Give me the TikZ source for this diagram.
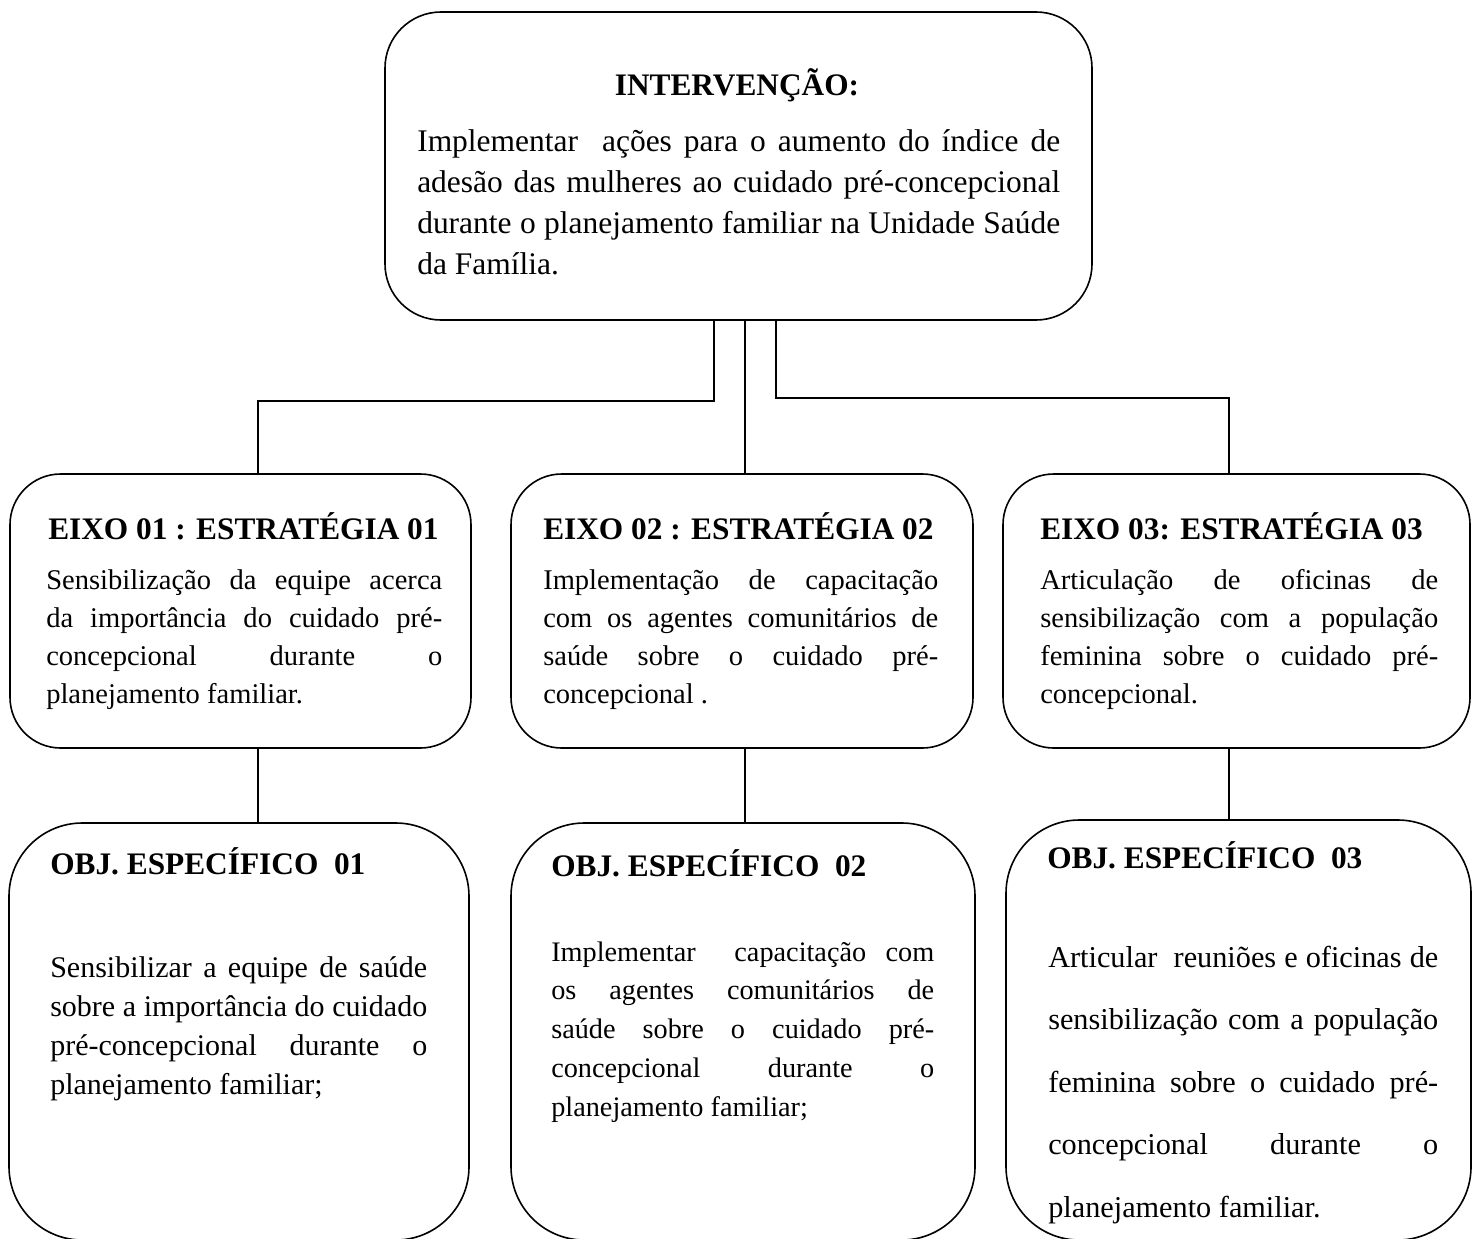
\documentclass[tikz,border=0pt]{standalone}
\usepackage{fontspec}
\setmainfont{Liberation Serif}
\definecolor{itvInk}{HTML}{000000}
% one justified line, and a block of lines whose base is the first line
\newcommand\jline[1]{\hbox to\hsize{\spaceskip=0.25em plus 1fil\xspaceskip=\spaceskip #1}}
\newcommand\bodylines[2]{\vtop{\hsize=#1\relax #2}}
\tikzset{
  itv box/.style={draw=itvInk, line width=1.2pt, rounded corners=#1, inner sep=0pt},
  itv box/.default=40pt,
  itv link/.style={draw=itvInk, line width=0.8pt},
  itv head/.style={font=\bfseries\fontsize{23.5}{28}\selectfont, text=itvInk, inner sep=0pt, anchor=base west},
  itv body/.style 2 args={font=\fontsize{#1}{#2}\selectfont, text=itvInk, inner sep=0pt, anchor=base west},
}

\begin{document}
\begin{tikzpicture}[x=0.75pt,y=-0.75pt]
  \useasboundingbox (0,0) rectangle (1477,1238);
  \clip (0,0) rectangle (1477,1238);

  % intervention
  \node[itv box=42pt, minimum width=530.25pt, minimum height=231pt] (top) at (738.5,166) {};
  \node[itv head, anchor=base] (topHead) at (737,95) {INTERVENÇÃO:};
  \node[itv body={23.6}{30.8}] (topText) at (417,151) {\bodylines{482.25pt}{%
    \jline{Implementar\ \ ações para o aumento do índice de}
    \jline{adesão das mulheres ao cuidado pré-concepcional}
    \jline{durante o planejamento familiar na Unidade Saúde}
    \hbox{da Família.}}};

  % axes
  \node[itv box=38pt, minimum width=345.75pt, minimum height=205.5pt] (e1) at (240.5,611) {};
  \node[itv box=38pt, minimum width=346.5pt, minimum height=205.5pt] (e2) at (742,611) {};
  \node[itv box=38pt, minimum width=350.25pt, minimum height=205.5pt] (e3) at (1236.5,611) {};

  \node[itv head] (e1Head) at (48,539) {EIXO 01 : ESTRATÉGIA 01};
  \node[itv head] (e2Head) at (543,539) {EIXO 02 : ESTRATÉGIA 02};
  \node[itv head] (e3Head) at (1040,539) {EIXO 03: ESTRATÉGIA 03};

  \node[itv body={21.4}{28.5}] (e1Text) at (46,589) {\bodylines{297pt}{%
    \jline{Sensibilização da equipe acerca}
    \jline{da importância do cuidado pré-}
    \jline{concepcional durante o}
    \hbox{planejamento familiar.}}};
  \node[itv body={21.4}{28.5}] (e2Text) at (543,589) {\bodylines{296.25pt}{%
    \jline{Implementação de capacitação}
    \jline{com os agentes comunitários de}
    \jline{saúde sobre o cuidado pré-}
    \hbox{concepcional .}}};
  \node[itv body={21.4}{28.5}] (e3Text) at (1040,589) {\bodylines{298.5pt}{%
    \jline{Articulação de oficinas de}
    \jline{sensibilização com a população}
    \jline{feminina sobre o cuidado pré-}
    \hbox{concepcional.}}};

  % specific objectives
  \node[itv box=55pt, minimum width=345pt, minimum height=312.75pt] (o1) at (239,1031.5) {};
  \node[itv box=55pt, minimum width=348pt, minimum height=312.75pt] (o2) at (743,1031.5) {};
  \node[itv box=55pt, minimum width=348.75pt, minimum height=315pt] (o3) at (1238.5,1030) {};

  \node[itv head] (o1Head) at (50,874) {OBJ. ESPECÍFICO\ \ 01};
  \node[itv head] (o2Head) at (551,876) {OBJ. ESPECÍFICO\ \ 02};
  \node[itv head] (o3Head) at (1047,868) {OBJ. ESPECÍFICO\ \ 03};

  \node[itv body={22.5}{29.25}] (o1Text) at (50,977) {\bodylines{282.75pt}{%
    \jline{Sensibilizar a equipe de saúde}
    \jline{sobre a importância do cuidado}
    \jline{pré-concepcional durante o}
    \hbox{planejamento familiar;}}};
  \node[itv body={21.2}{29.1}] (o2Text) at (551,961) {\bodylines{287.25pt}{%
    \jline{Implementar\ \ capacitação com}
    \jline{os agentes comunitários de}
    \jline{saúde sobre o cuidado pré-}
    \jline{concepcional durante o}
    \hbox{planejamento familiar;}}};
  \node[itv body={22.7}{46.9}] (o3Text) at (1048,967) {\bodylines{292.5pt}{%
    \jline{Articular\ \ reuniões e oficinas de}
    \jline{sensibilização com a população}
    \jline{feminina sobre o cuidado pré-}
    \jline{concepcional durante o}
    \hbox{planejamento familiar.}}};

  % connectors
  \coordinate (sL) at (714,320);
  \coordinate (sM) at (745,320);
  \coordinate (sR) at (776,320);
  \coordinate (kL) at (258,401);
  \coordinate (kR) at (1229,398);
  \draw[itv link] (top.south -| sL) |- (kL) -- (kL |- e1.north);
  \draw[itv link] (top.south -| sM) -- (sM |- e2.north);
  \draw[itv link] (top.south -| sR) |- (kR) -- (kR |- e3.north);
  \draw[itv link] (e1.south -| kL) -- (kL |- o1.north);
  \draw[itv link] (e2.south -| sM) -- (sM |- o2.north);
  \draw[itv link] (e3.south -| kR) -- (kR |- o3.north);
\end{tikzpicture}
\end{document}
